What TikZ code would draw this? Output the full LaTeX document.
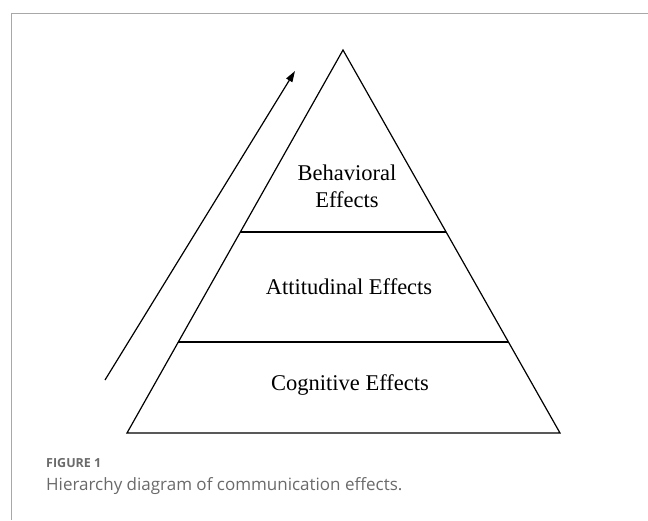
\documentclass[tikz,border=0pt]{standalone}
\usepackage{fontspec}
\setmainfont{Liberation Serif}
\newfontfamily\capfont{Open Sans}
\usetikzlibrary{arrows.meta,calc}
\definecolor{framegray}{HTML}{A8A8A8}
\definecolor{captiongray}{HTML}{6A6A6A}
\tikzset{
  edge/.style={line width=1.2pt, draw=black},
  levellabel/.style={font=\fontsize{22.5}{27}\selectfont, align=center, inner sep=0pt},
  captionhead/.style={font=\capfont\bfseries\fontsize{12.5}{14}\selectfont, text=captiongray, anchor=west, inner sep=0pt},
  captiontext/.style={font=\capfont\fontsize{17}{20}\selectfont, text=captiongray, anchor=west, inner sep=0pt},
}
\begin{document}
\begin{tikzpicture}[x=1pt,y=-1pt]
\useasboundingbox (0,0) rectangle (648,520);
% panel frame (top and left edges)
\draw[framegray, line width=1pt] (11,520) -- (11,13) -- (648,13);
% pyramid
\coordinate (apex) at (343,50);
\coordinate (bl) at (127,433);
\coordinate (br) at (560,433);
\draw[edge, line join=miter] (bl) -- (apex) -- (br) -- cycle;
% level separators
\coordinate (u1) at ($(bl)!0.5248!(apex)$);
\coordinate (u2) at ($(br)!0.5248!(apex)$);
\coordinate (m1) at ($(bl)!0.2376!(apex)$);
\coordinate (m2) at ($(br)!0.2376!(apex)$);
\draw[edge] (u1) -- (u2);
\draw[edge] (m1) -- (m2);
% level labels
\node[levellabel] (beh) at (347,186) {Behavioral\\Effects};
\node[levellabel] (att) at (349,287) {Attitudinal Effects};
\node[levellabel] (cog) at (350,385) {Cognitive Effects};
% direction arrow
\coordinate (arrowstart) at (105,380);
\coordinate (arrowend) at (295,71);
\draw[edge, -{Triangle[length=11pt,width=7pt]}] (arrowstart) -- (arrowend);
% caption
\node[captionhead] (fighead) at (46,463) {FIGURE 1};
\node[captiontext] (figtext) at (46,486) {Hierarchy diagram of communication effects.};
\end{tikzpicture}
\end{document}
